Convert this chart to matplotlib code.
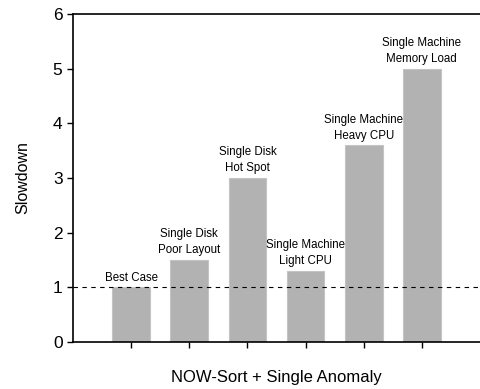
import matplotlib
matplotlib.use('Agg')
import matplotlib.pyplot as plt

plt.rcParams['font.family'] = ['Liberation Sans', 'DejaVu Sans']

labels = ['Best Case', 'Single Disk\nPoor Layout', 'Single Disk\nHot Spot',
          'Single Machine\nLight CPU', 'Single Machine\nHeavy CPU', 'Single Machine\nMemory Load']
slowdown = [1.0, 1.5, 3.0, 1.3, 3.6, 5.0]
baseline = 1.0

fig = plt.figure(figsize=(4.8, 3.89), dpi=100)
ax = fig.add_axes([0.152, 0.121, 0.848, 0.843])

x = list(range(1, len(slowdown) + 1))
ax.bar(x, slowdown, width=0.65, color='#b2b2b2', edgecolor='#c4c4c4', linewidth=0.8, zorder=2)
ax.axhline(baseline, color='black', linestyle=(0, (4, 4)), linewidth=0.8, zorder=3)

for xi, v, lab in zip(x, slowdown, labels):
    ax.annotate(lab, (xi, v), xytext=(0, 2.5), textcoords='offset points',
                ha='center', va='bottom', fontsize=8.3, linespacing=1.45)

ax.set_xlim(0, 7)
ax.set_ylim(0, 6)
ax.set_xticks(x)
ax.set_xticklabels([])
ax.set_yticks(range(0, 7))
ax.tick_params(axis='y', labelsize=12.5, direction='out', length=4, width=1)
ax.tick_params(axis='x', direction='out', length=4, width=1)
ax.spines['right'].set_visible(False)
for s in ['left', 'bottom', 'top']:
    ax.spines[s].set_linewidth(1.2)

ax.set_ylabel('Slowdown', fontsize=11.5, labelpad=16)
ax.set_xlabel('NOW-Sort + Single Anomaly', fontsize=12, labelpad=13)

fig.savefig('out.png', dpi=100)
